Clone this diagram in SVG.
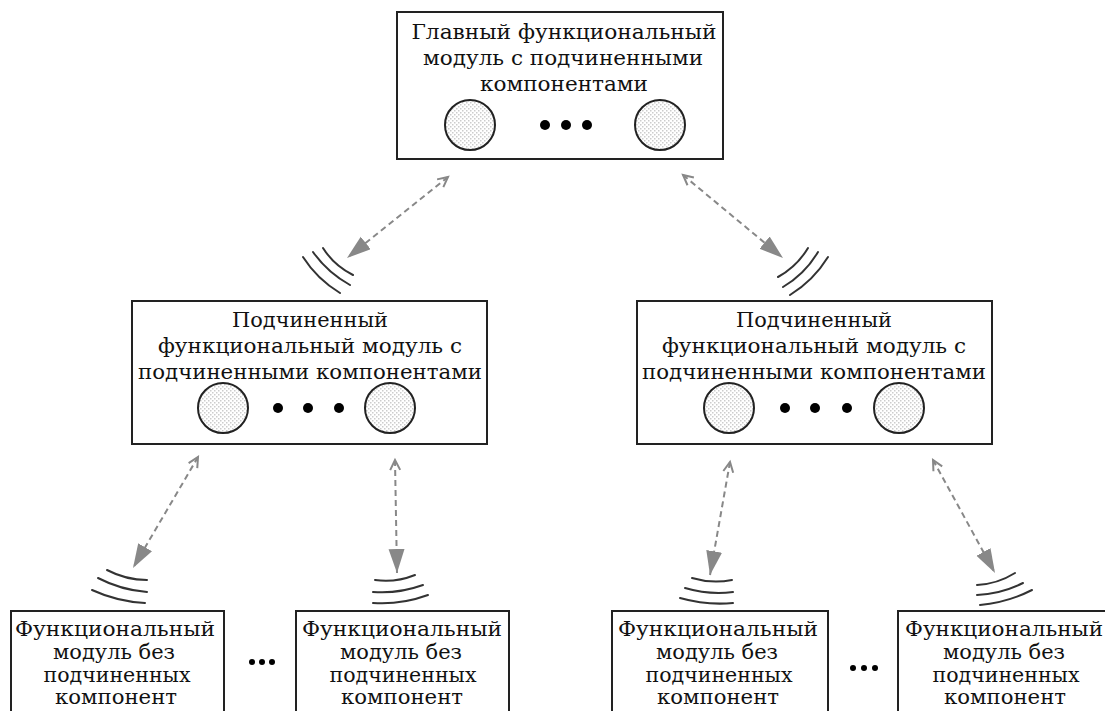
<svg xmlns="http://www.w3.org/2000/svg" width="1105" height="711" viewBox="0 0 1105 711">
<style>
.box{fill:#fff;stroke:#222;stroke-width:2}
.t{font-family:"DejaVu Serif","Liberation Serif",serif;font-size:21px;fill:#111;text-anchor:middle}
.c{fill:url(#stip);stroke:#222;stroke-width:2}
.dot{fill:#000}
.conn{fill:none;stroke:#888;stroke-width:2;stroke-dasharray:6 4;marker-start:url(#open);marker-end:url(#solid)}
.wave{fill:none;stroke:#333;stroke-width:2;stroke-linecap:round}
</style>
<defs>
<pattern id="stip" width="4" height="4" patternUnits="userSpaceOnUse">
<rect width="4" height="4" fill="#fff"/>
<rect x="0" y="0" width="1.5" height="1.5" fill="#cccccc"/>
<rect x="2" y="2" width="1.5" height="1.5" fill="#cccccc"/>
</pattern>
<marker id="solid" markerUnits="userSpaceOnUse" markerWidth="26" markerHeight="18" refX="24" refY="8" orient="auto">
<path d="M0,0 L24,8 L0,16 z" fill="#888"/>
</marker>
<marker id="open" markerUnits="userSpaceOnUse" markerWidth="14" markerHeight="14" refX="11" refY="6" orient="auto-start-reverse">
<path d="M1,1 L11,6 L1,11" fill="none" stroke="#888" stroke-width="2"/>
</marker>
</defs>

<g id="connectors">
<line class="conn" x1="448" y1="177" x2="347" y2="258"/>
<line class="conn" x1="683" y1="175" x2="783" y2="258"/>
<line class="conn" x1="198" y1="457" x2="133" y2="568"/>
<line class="conn" x1="395" y1="460" x2="397" y2="573"/>
<line class="conn" x1="730" y1="462" x2="710" y2="575"/>
<line class="conn" x1="933" y1="460" x2="995" y2="573"/>
<path class="wave" d="M303,257 Q317,279 340,293 M313,252 Q327.5,272.5 350,285 M323,248 Q334,265.5 353,275"/>
<path class="wave" d="M778,277 Q797,266.5 808,248 M783,287 Q805,274 818,252 M790,295 Q813.5,280.5 828,257"/>
<path class="wave" d="M107,570 Q126,580 147,580 M98,578 Q121,590 147,592 M92,590 Q117,601.5 145,603"/>
<path class="wave" d="M375,580 Q395,583 415,575 M373,592 Q398,594 423,585 M373,603 Q400.5,605 428,595"/>
<path class="wave" d="M692,578 Q712,584 732,580 M685,588 Q709,595 733,592 M680,598 Q706.5,605.5 733,603"/>
<path class="wave" d="M977,585 Q997.5,584 1015,573 M977,595 Q1001.5,594 1023,583 M980,605 Q1007.5,602.5 1032,590"/>
</g>

<g id="main">
<rect class="box" x="397" y="12" width="326" height="147"/>
<text class="t" x="564" y="39" textLength="305" lengthAdjust="spacingAndGlyphs">Главный функциональный</text>
<text class="t" x="563" y="65" textLength="280" lengthAdjust="spacingAndGlyphs">модуль с подчиненными</text>
<text class="t" x="564" y="91" textLength="168" lengthAdjust="spacingAndGlyphs">компонентами</text>
<circle class="c" cx="470" cy="125" r="25"/>
<circle class="c" cx="660" cy="125" r="25"/>
<circle class="dot" cx="545" cy="125" r="5"/>
<circle class="dot" cx="566" cy="125" r="5"/>
<circle class="dot" cx="587" cy="125" r="5"/>
</g>

<g id="sub-left">
<rect class="box" x="132" y="301" width="355" height="143"/>
<text class="t" x="310" y="327" textLength="156" lengthAdjust="spacingAndGlyphs">Подчиненный</text>
<text class="t" x="310" y="353" textLength="304" lengthAdjust="spacingAndGlyphs">функциональный модуль с</text>
<text class="t" x="310" y="379" textLength="344" lengthAdjust="spacingAndGlyphs">подчиненными компонентами</text>
<circle class="c" cx="223" cy="408" r="25"/>
<circle class="c" cx="390" cy="408" r="25"/>
<circle class="dot" cx="278" cy="408" r="5"/>
<circle class="dot" cx="308" cy="408" r="5"/>
<circle class="dot" cx="339" cy="408" r="5"/>
</g>

<g id="sub-right">
<rect class="box" x="637" y="301" width="355" height="143"/>
<text class="t" x="814" y="327" textLength="156" lengthAdjust="spacingAndGlyphs">Подчиненный</text>
<text class="t" x="814" y="353" textLength="304" lengthAdjust="spacingAndGlyphs">функциональный модуль с</text>
<text class="t" x="814" y="379" textLength="344" lengthAdjust="spacingAndGlyphs">подчиненными компонентами</text>
<circle class="c" cx="729" cy="408" r="25"/>
<circle class="c" cx="899" cy="408" r="25"/>
<circle class="dot" cx="785" cy="408" r="5"/>
<circle class="dot" cx="815" cy="408" r="5"/>
<circle class="dot" cx="847" cy="408" r="5"/>
</g>

<g id="leaf-1">
<rect class="box" x="11" y="611" width="213" height="115"/>
<text class="t" x="115" y="636" textLength="200" lengthAdjust="spacingAndGlyphs">Функциональный</text>
<text class="t" x="114" y="659" textLength="122" lengthAdjust="spacingAndGlyphs">модуль без</text>
<text class="t" x="117" y="682" textLength="147" lengthAdjust="spacingAndGlyphs">подчиненных</text>
<text class="t" x="116" y="704" textLength="122" lengthAdjust="spacingAndGlyphs">компонент</text>
</g>

<g id="gap-left">
<circle class="dot" cx="252" cy="662" r="3"/>
<circle class="dot" cx="262" cy="662" r="3"/>
<circle class="dot" cx="272" cy="662" r="3"/>
</g>

<g id="leaf-2">
<rect class="box" x="296" y="611" width="213" height="115"/>
<text class="t" x="402" y="636" textLength="200" lengthAdjust="spacingAndGlyphs">Функциональный</text>
<text class="t" x="401" y="659" textLength="122" lengthAdjust="spacingAndGlyphs">модуль без</text>
<text class="t" x="403" y="682" textLength="147" lengthAdjust="spacingAndGlyphs">подчиненных</text>
<text class="t" x="402" y="704" textLength="122" lengthAdjust="spacingAndGlyphs">компонент</text>
</g>

<g id="leaf-3">
<rect class="box" x="612" y="611" width="216" height="115"/>
<text class="t" x="718" y="636" textLength="200" lengthAdjust="spacingAndGlyphs">Функциональный</text>
<text class="t" x="717" y="659" textLength="122" lengthAdjust="spacingAndGlyphs">модуль без</text>
<text class="t" x="719" y="682" textLength="147" lengthAdjust="spacingAndGlyphs">подчиненных</text>
<text class="t" x="718" y="704" textLength="122" lengthAdjust="spacingAndGlyphs">компонент</text>
</g>

<g id="gap-right">
<circle class="dot" cx="853" cy="668" r="3"/>
<circle class="dot" cx="864" cy="668" r="3"/>
<circle class="dot" cx="875" cy="668" r="3"/>
</g>

<g id="leaf-4">
<rect class="box" x="898" y="611" width="216" height="115"/>
<text class="t" x="1004" y="636" textLength="198" lengthAdjust="spacingAndGlyphs">Функциональный</text>
<text class="t" x="1004" y="659" textLength="122" lengthAdjust="spacingAndGlyphs">модуль без</text>
<text class="t" x="1006" y="682" textLength="147" lengthAdjust="spacingAndGlyphs">подчиненных</text>
<text class="t" x="1005" y="704" textLength="122" lengthAdjust="spacingAndGlyphs">компонент</text>
</g>
</svg>
